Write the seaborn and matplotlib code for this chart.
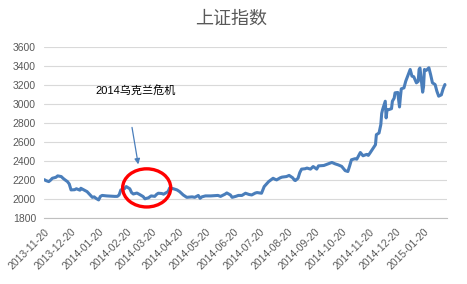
import matplotlib
matplotlib.use("Agg")
import matplotlib.pyplot as plt
import matplotlib.dates as mdates
from matplotlib.patches import Ellipse
import pandas as pd
import seaborn as sns

title = "上证指数"
note_text = "2014乌克兰危机"

dates = [
    "2013-11-20", "2013-11-22", "2013-11-25", "2013-11-27", "2013-11-29", "2013-12-03",
    "2013-12-05", "2013-12-09", "2013-12-11", "2013-12-13", "2013-12-16", "2013-12-18",
    "2013-12-20", "2013-12-24", "2013-12-26", "2013-12-30", "2013-12-31", "2014-01-03",
    "2014-01-07", "2014-01-09", "2014-01-13", "2014-01-15", "2014-01-17", "2014-01-20",
    "2014-01-22", "2014-01-24", "2014-01-29", "2014-02-07", "2014-02-10", "2014-02-12",
    "2014-02-14", "2014-02-18", "2014-02-20", "2014-02-24", "2014-02-26", "2014-02-28",
    "2014-03-04", "2014-03-07", "2014-03-11", "2014-03-13", "2014-03-17", "2014-03-20",
    "2014-03-24", "2014-03-26", "2014-03-28", "2014-04-01", "2014-04-03", "2014-04-08",
    "2014-04-10", "2014-04-14", "2014-04-18", "2014-04-21", "2014-04-23", "2014-04-25",
    "2014-04-29", "2014-05-05", "2014-05-08", "2014-05-12", "2014-05-14", "2014-05-16",
    "2014-05-20", "2014-05-26", "2014-06-03", "2014-06-06", "2014-06-11", "2014-06-13",
    "2014-06-17", "2014-06-19", "2014-06-23", "2014-06-26", "2014-06-30", "2014-07-04",
    "2014-07-08", "2014-07-11", "2014-07-15", "2014-07-17", "2014-07-22", "2014-07-25",
    "2014-07-28", "2014-07-30", "2014-08-04", "2014-08-06", "2014-08-08", "2014-08-12",
    "2014-08-14", "2014-08-19", "2014-08-22", "2014-08-26", "2014-08-28", "2014-08-29",
    "2014-09-01", "2014-09-03", "2014-09-05", "2014-09-09", "2014-09-11", "2014-09-15",
    "2014-09-18", "2014-09-22", "2014-09-24", "2014-09-30", "2014-10-09", "2014-10-13",
    "2014-10-16", "2014-10-20", "2014-10-24", "2014-10-27", "2014-10-29", "2014-10-31",
    "2014-11-04", "2014-11-06", "2014-11-10", "2014-11-13", "2014-11-17", "2014-11-19",
    "2014-11-21", "2014-11-24", "2014-11-27", "2014-11-28", "2014-12-01", "2014-12-03",
    "2014-12-04", "2014-12-05", "2014-12-08", "2014-12-09", "2014-12-10", "2014-12-12",
    "2014-12-15", "2014-12-16", "2014-12-18", "2014-12-19", "2014-12-22", "2014-12-24",
    "2014-12-25", "2014-12-26", "2014-12-29", "2014-12-31", "2015-01-05", "2015-01-07",
    "2015-01-09", "2015-01-12", "2015-01-14", "2015-01-15", "2015-01-16", "2015-01-19",
    "2015-01-20", "2015-01-21", "2015-01-23", "2015-01-26", "2015-01-28", "2015-01-30",
    "2015-02-02", "2015-02-04", "2015-02-06", "2015-02-09", "2015-02-11", "2015-02-13",
]
values = [
    2205, 2195, 2185, 2200, 2220, 2230,
    2245, 2238, 2220, 2205, 2185, 2160,
    2098, 2100, 2110, 2095, 2115, 2100,
    2080, 2060, 2020, 2025, 2010, 1993,
    2030, 2040, 2035, 2030, 2030, 2045,
    2098, 2110, 2133, 2110, 2070, 2055,
    2065, 2050, 2028, 2005, 2015, 2035,
    2030, 2050, 2063, 2060, 2053, 2080,
    2122, 2110, 2098, 2080, 2063, 2045,
    2020, 2025, 2020, 2040, 2010, 2025,
    2035, 2035, 2040, 2030, 2053, 2066,
    2045, 2020, 2030, 2040, 2040, 2063,
    2050, 2045, 2065, 2070, 2063, 2133,
    2165, 2185, 2220, 2210, 2203, 2225,
    2232, 2238, 2250, 2225, 2200, 2196,
    2220, 2280, 2316, 2320, 2327, 2316,
    2343, 2316, 2350, 2354, 2386, 2370,
    2361, 2345, 2300, 2291, 2350, 2414,
    2425, 2420, 2490, 2456, 2470, 2460,
    2487, 2530, 2572, 2677, 2695, 2782,
    2900, 2940, 3028, 2853, 2940, 2940,
    2950, 3028, 3060, 3116, 3120, 2968,
    3072, 3158, 3168, 3238, 3361, 3291,
    3285, 3221, 3236, 3361, 3376, 3123,
    3180, 3361, 3351, 3379, 3305, 3221,
    3203, 3133, 3081, 3095, 3158, 3203,
]
tick_dates = [
    "2013-11-20", "2013-12-20", "2014-01-20", "2014-02-20", "2014-03-20",
    "2014-04-20", "2014-05-20", "2014-06-20", "2014-07-20", "2014-08-20",
    "2014-09-20", "2014-10-20", "2014-11-20", "2014-12-20", "2015-01-20",
]
y_ticks = [1800, 2000, 2200, 2400, 2600, 2800, 3000, 3200, 3400, 3600]

df = pd.DataFrame({"date": pd.to_datetime(dates), "value": values})

sns.set_theme(style="white")
plt.rcParams["font.family"] = ["Liberation Sans", "Noto Sans CJK SC", "DejaVu Sans"]

fig = plt.figure(figsize=(4.67, 2.84), dpi=100)
ax = fig.add_axes([0.0949, 0.2313, 0.8616, 0.6043])

sns.lineplot(data=df, x="date", y="value", ax=ax, color="#4A7EBB", linewidth=2.2)

ax.set_xlim(pd.Timestamp("2013-11-20"), pd.Timestamp("2015-02-15"))
ax.set_ylim(1800, 3600)
ax.set_yticks(y_ticks)
ax.set_yticklabels([str(v) for v in y_ticks], fontsize=7.5, color="#595959")
ax.grid(axis="y", color="#d9d9d9", linewidth=0.8)
ax.set_axisbelow(True)

tk = pd.to_datetime(tick_dates)
ax.set_xticks(tk)
ax.set_xticklabels(tick_dates, rotation=45, ha="right", rotation_mode="anchor",
                   fontsize=7.5, color="#595959")
ax.tick_params(axis="x", length=4, width=0.8, color="#bfbfbf", direction="out", pad=2)
ax.tick_params(axis="y", length=0, pad=6)
ax.set_xlabel("")
ax.set_ylabel("")
for s in ["top", "right", "left"]:
    ax.spines[s].set_visible(False)
ax.spines["bottom"].set_color("#bfbfbf")
ax.spines["bottom"].set_linewidth(0.8)

# red ellipse highlighting the crisis period
cx = mdates.date2num(pd.Timestamp("2014-03-15"))
ax.add_patch(Ellipse((cx, 2119), width=54, height=400, fill=False,
                     edgecolor="#FF0000", linewidth=2.4, zorder=5))

# annotation arrow and text
ax.annotate("", xy=(pd.Timestamp("2014-03-06"), 2337),
            xytext=(pd.Timestamp("2014-02-26"), 2782),
            arrowprops=dict(arrowstyle="-|>", color="#4A7EBB", lw=0.9,
                            mutation_scale=8))
ax.text(pd.Timestamp("2014-03-03"), 3140, note_text, fontsize=8, color="black",
        ha="center", va="center")

fig.text(0.495, 1 - 19 / 284, title, fontsize=13, color="#595959",
         ha="center", va="center")

fig.savefig("out.png", dpi=100)
